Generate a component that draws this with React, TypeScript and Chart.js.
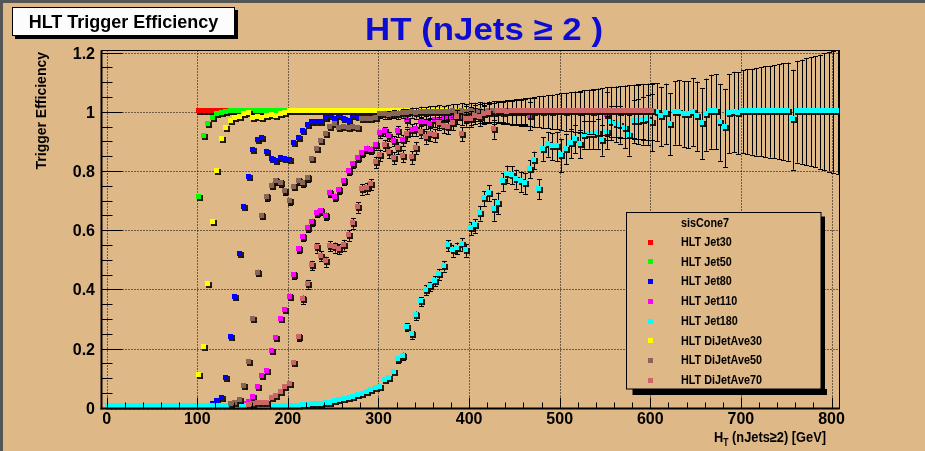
import React, { useEffect, useRef } from "react";
import { Chart, registerables } from "chart.js";

Chart.register(...registerables);

// ---------------- data (HT bin centres in GeV, trigger efficiencies) ----------------
const jet30HT = [102.5, 107.5, 112.5, 117.5, 122.5, 127.5, 132.5, 137.5, 142.5, 147.5,
  152.5, 157.5, 162.5, 167.5, 172.5, 177.5, 182.5, 187.5, 192.5, 197.5, 202.5];
const jet30Eff = [1, 1, 1, 1, 1, 1, 1, 1, 1, 1,
  1, 1, 1, 1, 1, 1, 1, 1, 1, 1, 1];

const jet50HT = [102.5, 107.5, 112.5, 117.5, 122.5, 127.5, 132.5, 137.5, 142.5, 147.5,
  152.5, 157.5, 162.5, 167.5, 172.5, 177.5, 182.5, 187.5, 192.5, 197.5,
  202.5, 207.5, 212.5, 217.5, 222.5, 227.5, 232.5, 237.5, 242.5, 247.5,
  252.5, 257.5, 262.5];
const jet50Eff = [0.71, 0.916, 0.958, 0.976, 0.99, 0.995, 0.998, 1, 1, 1,
  1, 1, 1, 1, 1, 1, 1, 1, 1, 1,
  1, 1, 1, 1, 1, 1, 1, 1, 1, 1,
  1, 1, 1];

const jet80HT = [112.5, 117.5, 122.5, 127.5, 132.5, 137.5, 142.5, 147.5, 152.5, 157.5,
  162.5, 167.5, 172.5, 177.5, 182.5, 187.5, 192.5, 197.5, 202.5, 207.5,
  212.5, 217.5, 222.5, 227.5, 232.5, 237.5, 242.5, 247.5, 252.5, 257.5,
  262.5, 267.5, 272.5, 277.5, 282.5, 287.5, 292.5, 297.5, 302.5, 307.5,
  312.5, 317.5, 322.5, 327.5, 332.5, 337.5, 342.5, 347.5, 352.5];
const jet80Eff = [0.005, 0.01, 0.02, 0.03, 0.097, 0.237, 0.374, 0.519, 0.677, 0.779,
  0.869, 0.903, 0.911, 0.862, 0.84, 0.832, 0.843, 0.84, 0.835, 0.892,
  0.911, 0.933, 0.953, 0.965, 0.965, 0.965, 0.977, 0.985, 0.975, 0.983,
  0.975, 0.967, 0.983, 0.98, 0.988, 0.99, 0.993, 0.995, 0.997, 1,
  1, 1, 1, 1, 1, 1, 1, 1, 1];

const jet110HT = [152.5, 157.5, 162.5, 167.5, 172.5, 177.5, 182.5, 187.5, 192.5, 197.5,
  202.5, 207.5, 212.5, 217.5, 222.5, 227.5, 232.5, 237.5, 242.5, 247.5,
  252.5, 257.5, 262.5, 267.5, 272.5, 277.5, 282.5, 287.5, 292.5, 297.5,
  302.5, 307.5, 312.5, 317.5, 322.5, 327.5, 332.5, 337.5, 342.5, 347.5,
  352.5, 357.5, 362.5, 367.5, 372.5, 377.5, 382.5, 387.5, 392.5, 397.5,
  402.5, 407.5, 412.5, 417.5, 422.5, 427.5, 432.5, 437.5, 442.5, 447.5,
  452.5, 457.5, 462.5, 467.5, 472.5, 477.5, 482.5, 487.5, 492.5, 497.5,
  502.5, 507.5, 512.5, 517.5, 522.5, 527.5, 532.5, 537.5, 542.5, 547.5,
  552.5, 557.5, 562.5, 567.5, 572.5, 577.5, 582.5, 587.5, 592.5, 597.5,
  602.5];
const jet110Eff = [0.01, 0.018, 0.035, 0.069, 0.105, 0.122, 0.191, 0.233, 0.297, 0.327,
  0.374, 0.446, 0.534, 0.575, 0.606, 0.626, 0.657, 0.662, 0.647, 0.724,
  0.711, 0.734, 0.764, 0.798, 0.821, 0.841, 0.858, 0.873, 0.87, 0.885,
  0.925, 0.933, 0.916, 0.9, 0.933, 0.903, 0.97, 0.937, 0.94, 0.962,
  0.962, 0.958, 0.97, 0.968, 0.975, 0.98, 0.978, 0.985, 0.982, 0.99,
  0.985, 0.99, 0.993, 0.99, 0.995, 0.993, 0.997, 0.995, 0.998, 0.996,
  0.998, 0.997, 0.999, 0.985, 0.998, 1, 0.999, 1, 0.998, 1,
  1, 0.999, 1, 1, 0.998, 1, 1, 0.999, 1, 1,
  0.986, 1, 1, 0.999, 1, 1, 1, 1, 1, 1,
  1];
const jet110Err = [0.002, 0.003, 0.004, 0.005, 0.006, 0.007, 0.008, 0.009, 0.01, 0.01,
  0.011, 0.011, 0.012, 0.012, 0.012, 0.012, 0.012, 0.012, 0.012, 0.012,
  0.012, 0.012, 0.012, 0.012, 0.012, 0.012, 0.012, 0.012, 0.012, 0.013,
  0.014, 0.015, 0.016, 0.017, 0.018, 0.019, 0.02, 0.02, 0.021, 0.021,
  0.022, 0.022, 0.023, 0.023, 0.024, 0.025, 0.026, 0.027, 0.028, 0.029,
  0.03, 0.031, 0.032, 0.033, 0.034, 0.035, 0.036, 0.037, 0.038, 0.04,
  0.042, 0.044, 0.046, 0.048, 0.05, 0.052, 0.054, 0.056, 0.058, 0.06,
  0.062, 0.064, 0.066, 0.068, 0.07, 0.072, 0.074, 0.076, 0.078, 0.08,
  0.082, 0.084, 0.085, 0.087, 0.088, 0.09, 0.091, 0.092, 0.094, 0.095,
  0.096];

const jet180HT = [2.5, 7.5, 12.5, 17.5, 22.5, 27.5, 32.5, 37.5, 42.5, 47.5,
  52.5, 57.5, 62.5, 67.5, 72.5, 77.5, 82.5, 87.5, 92.5, 97.5,
  102.5, 107.5, 112.5, 117.5, 122.5, 127.5, 132.5, 137.5, 142.5, 147.5,
  152.5, 157.5, 162.5, 167.5, 172.5, 177.5, 182.5, 187.5, 192.5, 197.5,
  202.5, 207.5, 212.5, 217.5, 222.5, 227.5, 232.5, 237.5, 242.5, 247.5,
  252.5, 257.5, 262.5, 267.5, 272.5, 277.5, 282.5, 287.5, 292.5, 297.5,
  302.5, 307.5, 312.5, 317.5, 322.5, 327.5, 332.5, 337.5, 342.5, 347.5,
  352.5, 357.5, 362.5, 367.5, 372.5, 377.5, 382.5, 387.5, 392.5, 397.5,
  402.5, 407.5, 412.5, 417.5, 422.5, 427.5, 432.5, 437.5, 442.5, 447.5,
  452.5, 457.5, 462.5, 467.5, 472.5, 477.5, 482.5, 487.5, 492.5, 497.5,
  502.5, 507.5, 512.5, 517.5, 522.5, 527.5, 532.5, 537.5, 542.5, 547.5,
  552.5, 557.5, 562.5, 567.5, 572.5, 577.5, 582.5, 587.5, 592.5, 597.5,
  602.5, 607.5, 612.5, 617.5, 622.5, 627.5, 632.5, 637.5, 642.5, 647.5,
  652.5, 657.5, 662.5, 667.5, 672.5, 677.5, 682.5, 687.5, 692.5, 697.5,
  702.5, 707.5, 712.5, 717.5, 722.5, 727.5, 732.5, 737.5, 742.5, 747.5,
  752.5, 757.5, 762.5, 767.5, 772.5, 777.5, 782.5, 787.5, 792.5, 797.5,
  802.5, 807.5];
const jet180Eff = [0.004, 0.004, 0.004, 0.004, 0.004, 0.004, 0.004, 0.004, 0.004, 0.004,
  0.004, 0.004, 0.004, 0.004, 0.004, 0.004, 0.004, 0.004, 0.004, 0.004,
  0.004, 0.004, 0.004, 0.004, 0.004, 0.004, 0.004, 0.004, 0.004, 0.004,
  0.004, 0.004, 0.004, 0.004, 0.004, 0.004, 0.004, 0.004, 0.004, 0.004,
  0.004, 0.004, 0.004, 0.006, 0.008, 0.01, 0.012, 0.012, 0.014, 0.015,
  0.02, 0.026, 0.028, 0.03, 0.035, 0.04, 0.046, 0.052, 0.058, 0.065,
  0.069, 0.092, 0.097, 0.12, 0.162, 0.174, 0.272, 0.246, 0.311, 0.358,
  0.397, 0.409, 0.427, 0.451, 0.478, 0.547, 0.53, 0.538, 0.551, 0.532,
  0.604, 0.614, 0.657, 0.706, 0.724, 0.668, 0.69, 0.763, 0.789, 0.785,
  0.772, 0.763, 0.758, 0.806, 0.835, 0.738, 0.874, 0.89, 0.882, 0.882,
  0.852, 0.874, 0.892, 0.907, 0.89, 0.921, 0.922, 0.922, 0.925, 0.904,
  0.93, 0.962, 0.958, 0.955, 0.942, 0.921, 0.967, 0.967, 0.969, 0.973,
  0.964, 0.998, 0.984, 0.993, 0.958, 0.996, 0.996, 0.992, 0.99, 0.998,
  0.984, 0.959, 0.99, 1, 1, 0.964, 0.945, 0.993, 0.999, 0.995,
  1, 1, 1, 1, 1, 1, 1, 1, 1, 1,
  1, 0.973, 1, 1, 1, 1, 1, 1, 1, 1,
  1, 1];
const jet180Err = [0, 0, 0, 0, 0, 0, 0, 0, 0, 0,
  0, 0, 0, 0, 0, 0, 0, 0, 0, 0,
  0, 0, 0, 0, 0, 0, 0, 0, 0, 0,
  0, 0, 0, 0, 0, 0, 0, 0, 0, 0,
  0, 0, 0, 0.002, 0.003, 0.003, 0.003, 0.003, 0.004, 0.004,
  0.004, 0.005, 0.005, 0.005, 0.006, 0.006, 0.006, 0.007, 0.007, 0.008,
  0.008, 0.009, 0.009, 0.01, 0.011, 0.012, 0.013, 0.013, 0.014, 0.015,
  0.016, 0.016, 0.017, 0.018, 0.018, 0.019, 0.02, 0.02, 0.021, 0.022,
  0.022, 0.023, 0.025, 0.026, 0.027, 0.036, 0.037, 0.03, 0.029, 0.03,
  0.032, 0.034, 0.036, 0.031, 0.03, 0.034, 0.04, 0.042, 0.045, 0.05,
  0.056, 0.052, 0.05, 0.048, 0.048, 0.046, 0.047, 0.048, 0.05, 0.052,
  0.055, 0.058, 0.06, 0.063, 0.066, 0.069, 0.072, 0.076, 0.08, 0.085,
  0.097, 0.098, 0.1, 0.102, 0.105, 0.107, 0.11, 0.111, 0.113, 0.115,
  0.118, 0.12, 0.122, 0.125, 0.127, 0.13, 0.132, 0.134, 0.136, 0.138,
  0.14, 0.143, 0.145, 0.148, 0.15, 0.153, 0.155, 0.158, 0.16, 0.163,
  0.166, 0.169, 0.172, 0.176, 0.18, 0.184, 0.188, 0.193, 0.197, 0.202,
  0.206, 0.21];

const dj30HT = [102.5, 107.5, 112.5, 117.5, 122.5, 127.5, 132.5, 137.5, 142.5, 147.5,
  152.5, 157.5, 162.5, 167.5, 172.5, 177.5, 182.5, 187.5, 192.5, 197.5,
  202.5, 207.5, 212.5, 217.5, 222.5, 227.5, 232.5, 237.5, 242.5, 247.5,
  252.5, 257.5, 262.5, 267.5, 272.5, 277.5, 282.5, 287.5, 292.5, 297.5,
  302.5, 307.5, 312.5, 317.5, 322.5, 327.5, 332.5, 337.5, 342.5, 347.5,
  352.5, 357.5, 362.5, 367.5, 372.5, 377.5, 382.5, 387.5, 392.5, 397.5,
  402.5];
const dj30Eff = [0.11, 0.203, 0.416, 0.627, 0.798, 0.907, 0.942, 0.968, 0.976, 0.982,
  0.99, 0.995, 0.978, 0.98, 0.978, 0.985, 0.988, 0.984, 0.99, 0.995,
  1, 1, 1, 1, 1, 1, 1, 1, 1, 1,
  1, 1, 1, 1, 1, 1, 1, 1, 1, 1,
  1, 1, 1, 1, 1, 1, 1, 1, 1, 1,
  1, 1, 1, 1, 1, 1, 1, 1, 1, 1,
  1];

const dj50HT = [137.5, 142.5, 147.5, 152.5, 157.5, 162.5, 167.5, 172.5, 177.5, 182.5,
  187.5, 192.5, 197.5, 202.5, 207.5, 212.5, 217.5, 222.5, 227.5, 232.5,
  237.5, 242.5, 247.5, 252.5, 257.5, 262.5, 267.5, 272.5, 277.5, 282.5,
  287.5, 292.5, 297.5, 302.5, 307.5, 312.5, 317.5, 322.5, 327.5, 332.5,
  337.5, 342.5, 347.5, 352.5, 357.5, 362.5, 367.5, 372.5, 377.5, 382.5,
  387.5, 392.5, 397.5, 402.5, 407.5, 412.5, 417.5, 422.5, 427.5, 432.5,
  437.5, 442.5, 447.5, 452.5, 457.5, 462.5];
const dj50Eff = [0.01, 0.015, 0.024, 0.071, 0.152, 0.297, 0.455, 0.647, 0.711, 0.749,
  0.764, 0.758, 0.729, 0.695, 0.745, 0.764, 0.758, 0.775, 0.84, 0.873,
  0.9, 0.922, 0.946, 0.958, 0.944, 0.946, 0.944, 0.947, 0.944, 0.972,
  0.975, 0.973, 0.976, 0.99, 0.99, 0.988, 0.992, 0.99, 0.995, 0.993,
  0.997, 0.995, 0.998, 0.996, 0.998, 0.997, 0.999, 0.996, 0.998, 1,
  0.998, 1, 0.997, 1, 0.999, 1, 0.998, 1, 1, 0.999,
  1, 1, 0.998, 1, 1, 1];
const dj50Err = [0.002, 0.003, 0.004, 0.006, 0.008, 0.01, 0.011, 0.011, 0.011, 0.011,
  0.011, 0.011, 0.011, 0.011, 0.011, 0.011, 0.011, 0.011, 0.01, 0.009,
  0.009, 0.008, 0.007, 0.007, 0.007, 0.007, 0.007, 0.007, 0.007, 0.006,
  0.007, 0.008, 0.009, 0.012, 0.013, 0.013, 0.014, 0.014, 0.015, 0.016,
  0.017, 0.018, 0.019, 0.02, 0.021, 0.022, 0.023, 0.024, 0.025, 0.026,
  0.027, 0.028, 0.029, 0.03, 0.031, 0.032, 0.033, 0.034, 0.035, 0.036,
  0.037, 0.038, 0.039, 0.04, 0.041, 0.042];

const dj70HT = [157.5, 162.5, 167.5, 172.5, 177.5, 182.5, 187.5, 192.5, 197.5, 202.5,
  207.5, 212.5, 217.5, 222.5, 227.5, 232.5, 237.5, 242.5, 247.5, 252.5,
  257.5, 262.5, 267.5, 272.5, 277.5, 282.5, 287.5, 292.5, 297.5, 302.5,
  307.5, 312.5, 317.5, 322.5, 327.5, 332.5, 337.5, 342.5, 347.5, 352.5,
  357.5, 362.5, 367.5, 372.5, 377.5, 382.5, 387.5, 392.5, 397.5, 402.5,
  407.5, 412.5, 417.5, 422.5, 427.5, 432.5, 437.5, 442.5, 447.5, 452.5,
  457.5, 462.5, 467.5, 472.5, 477.5, 482.5, 487.5, 492.5, 497.5, 502.5,
  507.5, 512.5, 517.5, 522.5, 527.5, 532.5, 537.5, 542.5, 547.5, 552.5,
  557.5, 562.5, 567.5, 572.5, 577.5, 582.5, 587.5, 592.5, 597.5, 602.5];
const dj70Eff = [0.008, 0.01, 0.015, 0.015, 0.015, 0.03, 0.037, 0.052, 0.069, 0.08,
  0.151, 0.236, 0.365, 0.417, 0.48, 0.54, 0.512, 0.493, 0.546, 0.541,
  0.536, 0.549, 0.582, 0.623, 0.677, 0.738, 0.741, 0.753, 0.829, 0.853,
  0.886, 0.863, 0.843, 0.877, 0.849, 0.922, 0.845, 0.877, 0.931, 0.913,
  0.924, 0.92, 0.961, 0.95, 0.947, 0.96, 0.981, 0.924, 0.975, 0.975,
  0.985, 0.98, 0.99, 0.995, 0.941, 1, 1, 0.998, 1, 1,
  1, 1, 1, 1, 1, 1, 1, 1, 1, 1,
  1, 1, 1, 1, 1, 1, 1, 1, 1, 1,
  1, 1, 1, 1, 1, 1, 1, 1, 1, 1];
const dj70Err = [0.002, 0.003, 0.003, 0.003, 0.003, 0.004, 0.005, 0.006, 0.007, 0.008,
  0.01, 0.012, 0.014, 0.015, 0.016, 0.016, 0.016, 0.017, 0.017, 0.017,
  0.017, 0.018, 0.018, 0.018, 0.018, 0.018, 0.019, 0.019, 0.019, 0.019,
  0.019, 0.019, 0.02, 0.02, 0.02, 0.02, 0.021, 0.021, 0.021, 0.021,
  0.022, 0.022, 0.022, 0.023, 0.023, 0.023, 0.024, 0.024, 0.025, 0.026,
  0.027, 0.028, 0.029, 0.03, 0.032, 0.034, 0.036, 0.038, 0.04, 0.042,
  0.044, 0.046, 0.048, 0.05, 0.052, 0.054, 0.056, 0.058, 0.06, 0.062,
  0.064, 0.066, 0.068, 0.07, 0.072, 0.074, 0.076, 0.078, 0.08, 0.082,
  0.084, 0.085, 0.086, 0.088, 0.089, 0.09, 0.091, 0.093, 0.094, 0.095];

const seriesLabels = ["HLT Jet30", "HLT Jet50", "HLT Jet80", "HLT Jet110", "HLT Jet180",
  "HLT DiJetAve30", "HLT DiJetAve50", "HLT DiJetAve70"];
const seriesColors = ["#ff0000", "#00ff00", "#0000ff", "#ff00ff", "#00ffff",
  "#ffff00", "#876657", "#cc6666"];
const seriesHT = [jet30HT, jet50HT, jet80HT, jet110HT, jet180HT, dj30HT, dj50HT, dj70HT];
const seriesEff = [jet30Eff, jet50Eff, jet80Eff, jet110Eff, jet180Eff, dj30Eff, dj50Eff, dj70Eff];
const seriesErr = [null, null, null, jet110Err, jet180Err, null, dj50Err, dj70Err];

const legendHeader = "sisCone7";
const pageTitle = "HT (nJets \u2265 2 )";
const boxTitle = "HLT Trigger Efficiency";
const yTitle = "Trigger Efficiency";

const xTickValues = [0, 100, 200, 300, 400, 500, 600, 700, 800];
const xTickLabels = ["0", "100", "200", "300", "400", "500", "600", "700", "800"];
const yTickValues = [0, 0.2, 0.4, 0.6, 0.8, 1, 1.2];
const yTickLabels = ["0", "0.2", "0.4", "0.6", "0.8", "1", "1.2"];

// ---------------- styling / layout ----------------
const W = 925;
const H = 451;
const BG = "#deb887";
const FRAME = { left: 101.5, top: 50.5, right: 839.5, bottom: 408.5 };
const X_MIN = -5.7;
const X_MAX = 808.8;
const Y_MIN = -0.0027;
const Y_MAX = 1.2068;
const FONT = "'Liberation Sans', Arial, Helvetica, sans-serif";

function makeMarker(color: string): HTMLCanvasElement {
  const c = document.createElement("canvas");
  c.width = 7;
  c.height = 7;
  const g = c.getContext("2d") as CanvasRenderingContext2D;
  g.fillStyle = "rgba(25,15,5,0.92)";
  g.fillRect(5, 1, 2, 6);
  g.fillRect(1, 5, 6, 2);
  g.fillStyle = color;
  g.fillRect(0, 0, 5, 5);
  return c;
}

function fitText(ctx: CanvasRenderingContext2D, text: string, x: number, y: number,
  font: string, scaleX: number, align: "left" | "center" | "right") {
  ctx.save();
  ctx.font = font;
  const w = ctx.measureText(text).width * scaleX;
  const left = align === "center" ? x - w / 2 : align === "right" ? x - w : x;
  ctx.translate(left, y);
  ctx.scale(scaleX, 1);
  ctx.textAlign = "left";
  ctx.textBaseline = "alphabetic";
  ctx.fillText(text, 0, 0);
  ctx.restore();
}

function seg(ctx: CanvasRenderingContext2D, x1: number, y1: number, x2: number, y2: number) {
  ctx.beginPath();
  ctx.moveTo(x1, y1);
  ctx.lineTo(x2, y2);
  ctx.stroke();
}

export default function App() {
  const ref = useRef<HTMLCanvasElement | null>(null);

  useEffect(() => {
    const canvas = ref.current;
    if (!canvas) return;
    const markers = seriesColors.map(makeMarker);

    const datasets = seriesLabels.map((label, s) => ({
      label,
      data: seriesHT[s].map((x, i) => ({ x, y: seriesEff[s][i] })),
      errs: seriesErr[s],
      pointStyle: markers[s],
      pointRadius: 3,
      pointHoverRadius: 3,
      borderWidth: 0,
      showLine: false,
      backgroundColor: seriesColors[s],
      borderColor: seriesColors[s],
      order: seriesLabels.length - s,
      clip: { left: 0, top: 0, right: 0, bottom: 1 },
    }));

    const rootPlugin = {
      id: "rootStyle",
      beforeDraw(chart: any) {
        const ctx = chart.ctx as CanvasRenderingContext2D;
        ctx.save();
        ctx.fillStyle = BG;
        ctx.fillRect(0, 0, W, H);
        ctx.fillStyle = "#555555";
        ctx.fillRect(0, 0, W, 3);
        ctx.fillRect(0, 0, 3, H);
        ctx.restore();
      },
      beforeDatasetsDraw(chart: any) {
        const ctx = chart.ctx as CanvasRenderingContext2D;
        const a = chart.chartArea;
        const xs = chart.scales.x;
        const ys = chart.scales.y;
        ctx.save();
        ctx.strokeStyle = "#000";
        ctx.lineWidth = 1;
        ctx.setLineDash([1, 2]);
        for (const v of xTickValues) {
          const px = Math.round(xs.getPixelForValue(v)) + 0.5;
          seg(ctx, px, a.top, px, a.bottom);
        }
        for (const v of yTickValues) {
          if (v === 0) continue;
          const py = Math.round(ys.getPixelForValue(v)) + 0.5;
          seg(ctx, a.left, py, a.right, py);
        }
        ctx.restore();
      },
      beforeDatasetDraw(chart: any, args: any) {
        const ctx = chart.ctx as CanvasRenderingContext2D;
        ctx.imageSmoothingEnabled = false;
        const ds = chart.data.datasets[args.index];
        const errs: number[] | null = ds.errs;
        if (!errs) return;
        const a = chart.chartArea;
        const xs = chart.scales.x;
        const ys = chart.scales.y;
        ctx.save();
        ctx.beginPath();
        ctx.rect(a.left, a.top, a.right - a.left, a.bottom - a.top);
        ctx.clip();
        ctx.strokeStyle = "#000";
        ctx.lineWidth = 1;
        ds.data.forEach((p: any, i: number) => {
          const e = errs[i];
          if (!e) return;
          const px = xs.getPixelForValue(p.x);
          const top = ys.getPixelForValue(p.y + e);
          const bot = ys.getPixelForValue(p.y - e);
          if ((bot - top) / 2 < 3.2) return;
          const bx = Math.round(px - 0.5) + 0.5;
          seg(ctx, bx, top, bx, bot);
          seg(ctx, bx - 2.5, Math.round(top) + 0.5, bx + 2.5, Math.round(top) + 0.5);
          seg(ctx, bx - 2.5, Math.round(bot) + 0.5, bx + 2.5, Math.round(bot) + 0.5);
        });
        ctx.restore();
      },
      afterDatasetsDraw(chart: any) {
        const ctx = chart.ctx as CanvasRenderingContext2D;
        const a = chart.chartArea;
        const xs = chart.scales.x;
        const ys = chart.scales.y;
        ctx.save();
        ctx.setLineDash([]);
        ctx.strokeStyle = "#000";
        ctx.lineWidth = 1;
        ctx.strokeRect(a.left, a.top, a.right - a.left, a.bottom - a.top);
        ctx.lineWidth = 2;
        seg(ctx, a.left, a.top, a.left, a.bottom + 1);
        seg(ctx, a.left - 1, a.bottom, a.right, a.bottom);
        ctx.lineWidth = 1;
        // y ticks
        for (let k = 0; k <= 24; k++) {
          const v = k * 0.05;
          const py = Math.round(ys.getPixelForValue(v)) + 0.5;
          const len = k % 4 === 0 ? 21 : 11;
          seg(ctx, a.left, py, a.left + len, py);
        }
        // x ticks
        for (let k = 0; k <= 40; k++) {
          const v = k * 20;
          const px = Math.round(xs.getPixelForValue(v)) + 0.5;
          const len = k % 5 === 0 ? 11 : 6;
          seg(ctx, px, a.bottom, px, a.bottom - len);
        }
        ctx.fillStyle = "#000";
        ctx.font = "bold 16px " + FONT;
        ctx.textAlign = "right";
        ctx.textBaseline = "alphabetic";
        yTickValues.forEach((v, i) => {
          const py = ys.getPixelForValue(v);
          ctx.fillText(yTickLabels[i], 95, py + 6);
        });
        ctx.textAlign = "center";
        xTickValues.forEach((v, i) => {
          const px = xs.getPixelForValue(v);
          ctx.fillText(xTickLabels[i], px, 424);
        });
        // y title
        ctx.save();
        ctx.translate(46, 52);
        ctx.rotate(-Math.PI / 2);
        ctx.font = "bold 14px " + FONT;
        ctx.textAlign = "right";
        ctx.fillText(yTitle, 0, 0);
        ctx.restore();
        // x title: H_T (nJets>=2) [GeV]
        const big = "bold 15px " + FONT;
        const small = "bold 10px " + FONT;
        const rest = " (nJets\u22652) [GeV]";
        ctx.font = big;
        const wH = ctx.measureText("H").width;
        const wR = ctx.measureText(rest).width;
        ctx.font = small;
        const wT = ctx.measureText("T").width;
        const total = wH + wT + wR;
        const target = 112;
        const sc = target / total;
        ctx.save();
        ctx.translate(826 - target, 442);
        ctx.scale(sc, 1);
        ctx.textAlign = "left";
        ctx.font = big;
        ctx.fillText("H", 0, 0);
        ctx.font = small;
        ctx.fillText("T", wH, 4);
        ctx.font = big;
        ctx.fillText(rest, wH + wT, 0);
        ctx.restore();
        ctx.restore();
      },
      afterDraw(chart: any) {
        const ctx = chart.ctx as CanvasRenderingContext2D;
        ctx.save();
        ctx.imageSmoothingEnabled = false;
        // top-left title box
        ctx.fillStyle = "#000";
        ctx.fillRect(15, 10, 223, 29);
        ctx.fillStyle = "#fcfcfc";
        ctx.fillRect(12, 7, 223, 29);
        ctx.strokeStyle = "#000";
        ctx.lineWidth = 1;
        ctx.strokeRect(12.5, 7.5, 222, 28);
        ctx.fillStyle = "#000";
        ctx.font = "bold 18px " + FONT;
        ctx.textAlign = "center";
        ctx.fillText(boxTitle, 123.5, 28);
        // main title
        ctx.fillStyle = "#0c0cd2";
        const tFont = "bold 32px " + FONT;
        ctx.font = tFont;
        const tw = ctx.measureText(pageTitle).width;
        fitText(ctx, pageTitle, 484, 39.5, tFont, 238 / tw, "center");
        // legend
        const L = { left: 626.5, top: 212.5, right: 821, bottom: 389 };
        ctx.fillStyle = "#000";
        ctx.fillRect(L.right, L.top + 4, 4, L.bottom - L.top + 2);
        ctx.fillRect(L.left + 6, L.bottom, L.right - L.left, 6);
        ctx.fillStyle = BG;
        ctx.fillRect(L.left, L.top, L.right - L.left, L.bottom - L.top);
        ctx.strokeStyle = "#000";
        ctx.lineWidth = 1;
        ctx.strokeRect(L.left, L.top, L.right - L.left, L.bottom - L.top);
        ctx.fillStyle = "#000";
        const lFont = "bold 12px " + FONT;
        fitText(ctx, legendHeader, 681, 226.6, lFont, 0.9, "left");
        seriesLabels.forEach((lab, i) => {
          const cy = 241.7 + 19.7 * i;
          ctx.fillStyle = seriesColors[i];
          ctx.fillRect(648, Math.round(cy) - 2, 5, 5);
          ctx.fillStyle = "#000";
          fitText(ctx, lab, 681, cy + 4.3, lFont, 0.9, "left");
        });
        ctx.restore();
      },
    };

    const chart = new Chart(canvas, {
      type: "scatter",
      data: { datasets: datasets as any },
      options: {
        responsive: false,
        maintainAspectRatio: false,
        animation: false,
        devicePixelRatio: 1,
        events: [],
        layout: {
          padding: {
            left: FRAME.left,
            top: FRAME.top,
            right: W - FRAME.right,
            bottom: H - FRAME.bottom,
          },
        },
        scales: {
          x: { type: "linear", min: X_MIN, max: X_MAX, display: false },
          y: { type: "linear", min: Y_MIN, max: Y_MAX, display: false },
        },
        plugins: {
          legend: { display: false },
          tooltip: { enabled: false },
          title: { display: false },
        },
      },
      plugins: [rootPlugin as any],
    });

    return () => chart.destroy();
  }, []);

  return (
    <div style={{ position: "absolute", left: 0, top: 0, width: W, height: H, background: BG }}>
      <canvas ref={ref} width={W} height={H} style={{ display: "block", width: W, height: H }} />
    </div>
  );
}
